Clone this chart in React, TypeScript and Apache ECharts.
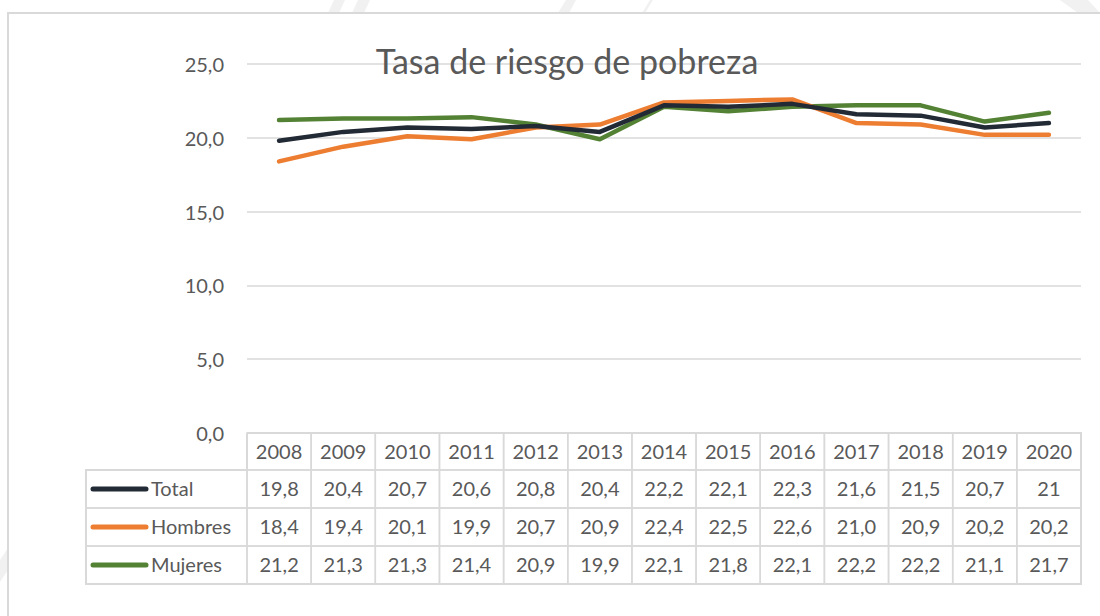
import React, { useEffect, useRef } from "react";
import * as echarts from "echarts";

const years = ["2008","2009","2010","2011","2012","2013","2014","2015","2016","2017","2018","2019","2020"];
const totalText = ["19,8","20,4","20,7","20,6","20,8","20,4","22,2","22,1","22,3","21,6","21,5","20,7","21"];
const hombresText = ["18,4","19,4","20,1","19,9","20,7","20,9","22,4","22,5","22,6","21,0","20,9","20,2","20,2"];
const mujeresText = ["21,2","21,3","21,3","21,4","20,9","19,9","22,1","21,8","22,1","22,2","22,2","21,1","21,7"];
const seriesNames = ["Total", "Hombres", "Mujeres"];
const seriesColors = ["#222a35", "#ed7d31", "#548235"];
const yTicks = [0, 5, 10, 15, 20, 25];

const toNum = (s: string) => parseFloat(s.replace(",", "."));
const texts = [totalText, hombresText, mujeresText];

const FONT = "Lato, 'Open Sans', sans-serif";
const TXT = "#595959";
const BORDER = "#d9d9d9";

export default function App() {
  const ref = useRef<HTMLDivElement>(null);
  useEffect(() => {
    const chart = echarts.init(ref.current!, null, { renderer: "svg" });
    const gridLeft = 247;
    const gridRight = 19;
    const gridTop = 64;
    const gridBottomY = 433;
    const W = 1100;
    const colW = (W - gridRight - gridLeft) / years.length;
    const headerH = 37;
    const rowH = 38;
    const firstColX = 86;

    const graphic: any[] = [];
    // faint watermark strokes
    const wm = "#f1f1f1";
    graphic.push({ type: "polygon", silent: true, shape: { points: [[334, 0], [345, 0], [339, 13], [328, 13]] }, style: { fill: wm } });
    graphic.push({ type: "polygon", silent: true, shape: { points: [[358, 0], [370, 0], [364, 13], [352, 13]] }, style: { fill: wm } });
    graphic.push({ type: "polygon", silent: true, shape: { points: [[566, 0], [576, 0], [569, 13], [558, 13]] }, style: { fill: wm } });
    graphic.push({ type: "polygon", silent: true, shape: { points: [[650, 0], [653, 0], [645, 13], [642, 13]] }, style: { fill: wm } });
    graphic.push({ type: "polygon", silent: true, shape: { points: [[1060, 0], [1088, 0], [1100, 13], [1078, 13]] }, style: { fill: wm } });
    graphic.push({ type: "polygon", silent: true, shape: { points: [[0, 560], [8, 548], [8, 570], [0, 582]] }, style: { fill: wm } });
    // frame
    graphic.push({ type: "rect", silent: true, shape: { x: 8, y: 13, width: 1100, height: 620 }, style: { fill: "none", stroke: BORDER, lineWidth: 2 } });

    const cellFont = `20px ${FONT}`;
    // header row
    years.forEach((y, i) => {
      graphic.push({ type: "rect", shape: { x: gridLeft + i * colW, y: gridBottomY, width: colW, height: headerH }, style: { fill: "none", stroke: BORDER, lineWidth: 1.5 } });
      graphic.push({ type: "text", x: gridLeft + i * colW + colW / 2, y: gridBottomY + headerH / 2 - 1, style: { text: y, fill: TXT, font: cellFont, align: "center", verticalAlign: "middle" } });
    });
    // data rows
    seriesNames.forEach((name, r) => {
      const yTop = gridBottomY + headerH + r * rowH;
      graphic.push({ type: "rect", shape: { x: firstColX, y: yTop, width: gridLeft - firstColX, height: rowH }, style: { fill: "none", stroke: BORDER, lineWidth: 1.5 } });
      graphic.push({ type: "line", shape: { x1: firstColX + 7, y1: yTop + rowH / 2, x2: firstColX + 60, y2: yTop + rowH / 2 }, style: { stroke: seriesColors[r], lineWidth: 5, lineCap: "round" } });
      graphic.push({ type: "text", x: firstColX + 65, y: yTop + rowH / 2 - 1, style: { text: name, fill: TXT, font: cellFont, align: "left", verticalAlign: "middle" } });
      texts[r].forEach((t, i) => {
        graphic.push({ type: "rect", shape: { x: gridLeft + i * colW, y: yTop, width: colW, height: rowH }, style: { fill: "none", stroke: BORDER, lineWidth: 1.5 } });
        graphic.push({ type: "text", x: gridLeft + i * colW + colW / 2, y: yTop + rowH / 2 - 1, style: { text: t, fill: TXT, font: cellFont, align: "center", verticalAlign: "middle" } });
      });
    });
    // outer table border
    graphic.push({ type: "polyline", shape: { points: [[gridLeft, gridBottomY], [W - gridRight, gridBottomY], [W - gridRight, gridBottomY + headerH + 3 * rowH], [firstColX, gridBottomY + headerH + 3 * rowH], [firstColX, gridBottomY + headerH], [gridLeft, gridBottomY + headerH], [gridLeft, gridBottomY]] }, style: { fill: "none", stroke: BORDER, lineWidth: 2 } });

    chart.setOption({
      animation: false,
      backgroundColor: "#ffffff",
      title: {
        text: "Tasa de riesgo de pobreza",
        left: 562,
        top: 38,
        textAlign: "center",
        textStyle: { fontFamily: FONT, fontSize: 34, fontWeight: "normal", color: TXT },
      },
      grid: { left: gridLeft, right: gridRight, top: gridTop, bottom: 616 - gridBottomY },
      xAxis: {
        type: "category",
        data: years,
        boundaryGap: true,
        axisLine: { show: false },
        axisTick: { show: false },
        axisLabel: { show: false },
      },
      yAxis: {
        type: "value",
        min: yTicks[0],
        max: yTicks[yTicks.length - 1],
        interval: 5,
        axisLine: { show: false },
        axisTick: { show: false },
        splitLine: { lineStyle: { color: BORDER, width: 1.5 } },
        axisLabel: {
          margin: 23,
          color: TXT,
          fontFamily: FONT,
          fontSize: 20,
          formatter: (v: number) => v.toFixed(1).replace(".", ","),
        },
      },
      series: seriesNames.map((name, r) => ({
        name,
        type: "line",
        data: texts[r].map(toNum),
        showSymbol: false,
        symbol: "none",
        lineStyle: { color: seriesColors[r], width: 4.5, cap: "round", join: "round" },
        itemStyle: { color: seriesColors[r] },
        z: 3 - r + 2,
      })),
      graphic,
    });
    return () => chart.dispose();
  }, []);
  return <div ref={ref} style={{ position: "fixed", left: 0, top: 0, width: 1100, height: 616 }} />;
}
